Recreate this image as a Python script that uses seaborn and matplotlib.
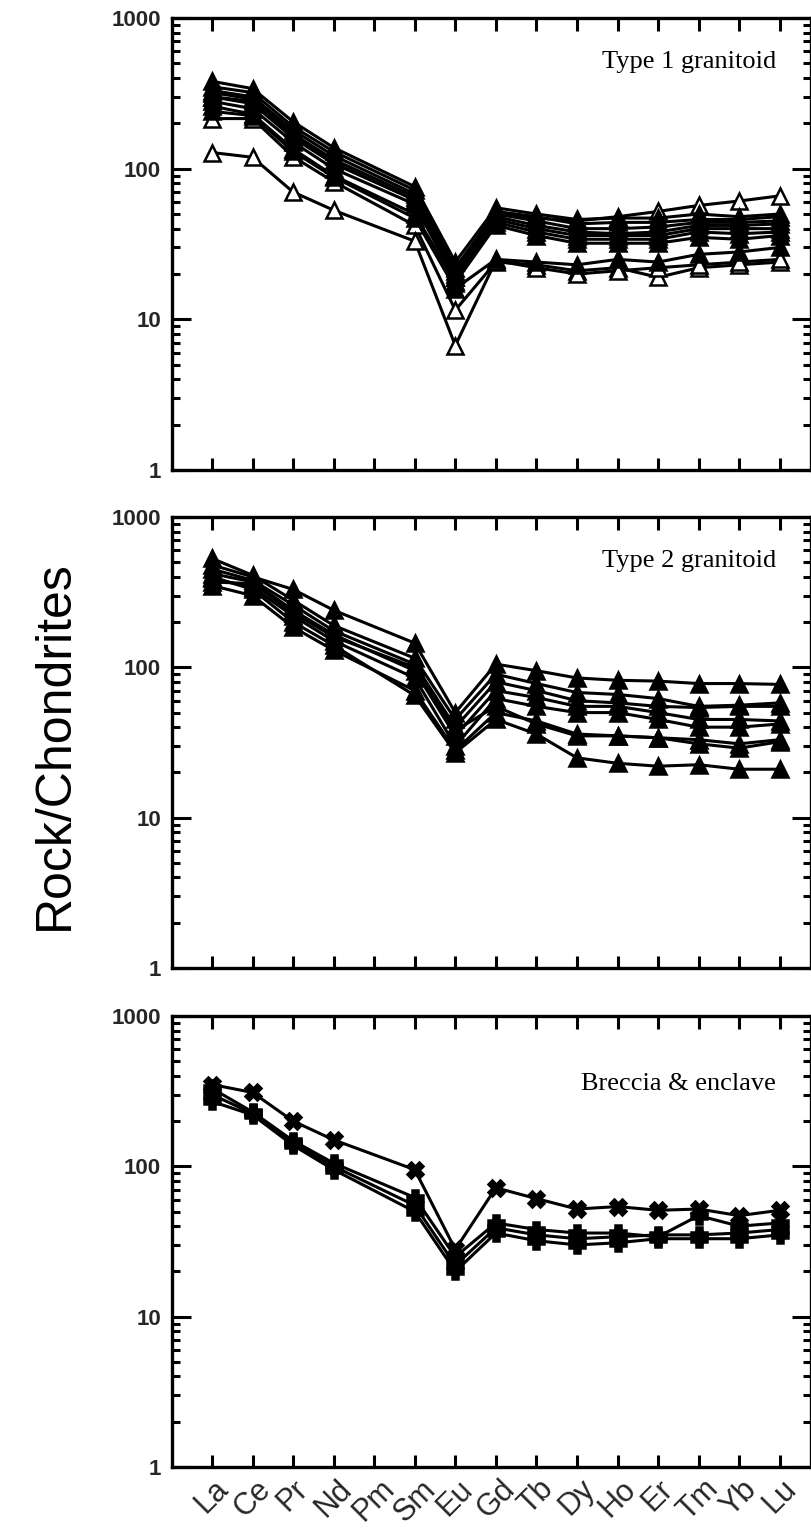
import numpy as np
import pandas as pd
import matplotlib
matplotlib.use("Agg")
import matplotlib.pyplot as plt
import seaborn as sns
from matplotlib.ticker import FixedLocator, FixedFormatter, NullFormatter

# ---------------- data ----------------
elements = ["La", "Ce", "Pr", "Nd", "Pm", "Sm", "Eu", "Gd", "Tb", "Dy", "Ho", "Er", "Tm", "Yb", "Lu"]
ytick_values = [1, 10, 100, 1000]
ytick_labels = ["1", "10", "100", "1000"]
NaN = np.nan

# Type 1 granitoid (open triangles)
t1_o1 = [300, 280, 165, 110, NaN, 62, 19, 50, 47, 45, 48, 52, 57, 61, 66]
t1_o2 = [215, 215, 120, 82, NaN, 42, 11.5, 24, 23, 21, 22, 19, 22, 23, 24]
t1_o3 = [128, 119, 70, 53, NaN, 33, 6.7, 24.5, 22, 20, 21, 22, 23, 24, 25]
# Type 1 granitoid (filled triangles)
t1_f1 = [380, 340, 205, 138, NaN, 76, 24, 55, 50, 46, 47, 47, 50, 48, 50]
t1_f2 = [350, 320, 190, 130, NaN, 72, 22, 52, 48, 43, 44, 44, 46, 46, 48]
t1_f3 = [330, 300, 180, 122, NaN, 68, 21, 50, 45, 40, 40, 41, 44, 44, 45]
t1_f4 = [320, 290, 170, 115, NaN, 65, 20, 48, 42, 38, 37, 38, 42, 42, 43]
t1_f5 = [300, 270, 160, 108, NaN, 62, 19, 46, 40, 36, 36, 36, 40, 40, 40]
t1_f6 = [280, 250, 150, 100, NaN, 58, 18, 44, 38, 34, 34, 34, 38, 37, 38]
t1_f7 = [260, 230, 135, 90, NaN, 50, 17.5, 42, 36, 32, 32, 32, 35, 34, 36]
t1_f8 = [240, 225, 130, 88, NaN, 47, 16, 25, 24, 23, 25, 24, 27, 28, 30]

# Type 2 granitoid (filled triangles)
t2_s1 = [480, 400, 330, 240, NaN, 145, 50, 105, 95, 85, 82, 81, 78, 78, 77]
t2_s2 = [530, 410, 280, 190, NaN, 115, 45, 90, 78, 68, 66, 62, 55, 56, 58]
t2_s3 = [450, 380, 260, 175, NaN, 105, 40, 80, 70, 60, 58, 55, 54, 55, 55]
t2_s4 = [420, 370, 240, 165, NaN, 95, 35, 70, 63, 55, 55, 50, 45, 45, 44]
t2_s5 = [390, 340, 220, 150, NaN, 85, 30, 62, 55, 50, 50, 45, 40, 40, 42]
t2_s6 = [350, 300, 185, 130, NaN, 70, 28, 50, 44, 36, 35, 34, 31, 29, 32]
t2_s7 = [400, 330, 200, 140, NaN, 65, 27, 45, 36, 25, 23, 22, 22.5, 21, 21]
t2_s8 = [370, 360, 230, 160, NaN, 100, 38, 55, 42, 35, 35, 34, 33, 31, 33]

# Breccia & enclave
br_x1 = [350, 310, 200, 150, NaN, 95, 28, 72, 61, 52, 54, 51, 52, 47, 51]
br_p1 = [330, 230, 148, 105, NaN, 62, 25, 42, 38, 36, 36, 34, 47, 40, 42]
br_p2 = [300, 225, 143, 100, NaN, 55, 22, 39, 35, 33, 34, 35, 35, 36, 38]
br_p3 = [270, 220, 138, 95, NaN, 50, 20, 36, 32, 30, 31, 33, 33, 33, 35]

panels = [
    ("Type 1 granitoid", [
        ("O1", t1_o1, "^", False), ("O2", t1_o2, "^", False), ("O3", t1_o3, "^", False),
        ("F1", t1_f1, "^", True), ("F2", t1_f2, "^", True), ("F3", t1_f3, "^", True),
        ("F4", t1_f4, "^", True), ("F5", t1_f5, "^", True), ("F6", t1_f6, "^", True),
        ("F7", t1_f7, "^", True), ("F8", t1_f8, "^", True),
    ]),
    ("Type 2 granitoid", [
        ("S1", t2_s1, "^", True), ("S2", t2_s2, "^", True), ("S3", t2_s3, "^", True),
        ("S4", t2_s4, "^", True), ("S5", t2_s5, "^", True), ("S6", t2_s6, "^", True),
        ("S7", t2_s7, "^", True), ("S8", t2_s8, "^", True),
    ]),
    ("Breccia & enclave", [
        ("X1", br_x1, "X", True), ("P1", br_p1, "P", True),
        ("P2", br_p2, "P", True), ("P3", br_p3, "P", True),
    ]),
]

# ---------------- figure ----------------
sns.set_theme(style="white")
plt.rcParams["font.family"] = ["Liberation Sans", "DejaVu Sans"]

W, H = 812, 1534
fig = plt.figure(figsize=(W / 100, H / 100), dpi=100)
fig.patch.set_facecolor("white")

left_px, right_px = 172, 811
panel_px = [(18, 470), (517, 968), (1016, 1467)]
text_y = [0.903, 0.902, 0.85]

pos = np.arange(len(elements))
for i, ((title, series), (top, bot)) in enumerate(zip(panels, panel_px)):
    ax = fig.add_axes([left_px / W, 1 - bot / H, (right_px - left_px) / W, (bot - top) / H])
    for name, vals, mk, filled in series:
        df = pd.DataFrame({"pos": pos, "value": vals}).dropna()
        sns.lineplot(data=df, x="pos", y="value", ax=ax, color="black", lw=2.2,
                     marker=mk, markersize=12,
                     markerfacecolor="black" if filled else "white",
                     markeredgecolor="black", markeredgewidth=1.8,
                     estimator=None, sort=False, legend=False)
    ax.set_yscale("log")
    ax.set_ylim(1, 1000)
    ax.set_xlim(-0.985, 14.77)
    ax.yaxis.set_major_locator(FixedLocator(ytick_values))
    ax.yaxis.set_major_formatter(FixedFormatter(ytick_labels))
    minors = [m * 10 ** e for e in range(0, 3) for m in range(2, 10)]
    ax.yaxis.set_minor_locator(FixedLocator(minors))
    ax.yaxis.set_minor_formatter(NullFormatter())
    ax.set_xticks(pos)
    if i == 2:
        ax.set_xticklabels(elements, rotation=45, ha="center", fontsize=22)
    else:
        ax.set_xticklabels([])
    ax.set_xlabel("")
    ax.set_ylabel("")
    ax.tick_params(axis="both", which="both", direction="in", top=True, right=True,
                   bottom=True, left=True, color="black")
    ax.tick_params(axis="x", which="major", length=9, width=2.2, pad=5)
    ax.tick_params(axis="y", which="major", length=14, width=2.2, labelsize=16, pad=8)
    ax.tick_params(axis="y", which="minor", length=6, width=2.2)
    for lab in ax.get_yticklabels():
        lab.set_fontweight("bold")
    for sp in ax.spines.values():
        sp.set_visible(True)
        sp.set_color("black")
        sp.set_linewidth(2.4)
    ax.grid(False)
    ax.set_facecolor("white")
    ax.text(0.945, text_y[i], title, transform=ax.transAxes, ha="right", va="center",
            fontsize=19, family=["Liberation Serif", "DejaVu Serif"], color="black")

fig.text(55 / W, 1 - 745 / H, "Rock/Chondrites", rotation=90, ha="center", va="center",
         fontsize=36, color="black")

fig.savefig("out.png", dpi=100, facecolor="white")
